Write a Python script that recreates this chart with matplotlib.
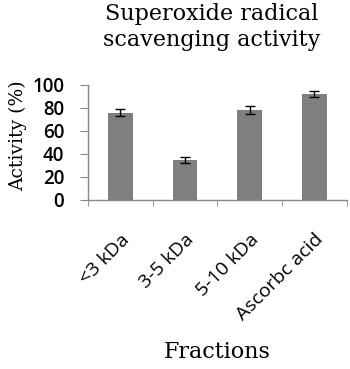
import numpy as np
import matplotlib.pyplot as plt
import matplotlib.transforms as mtransforms

# データ
fractions = ["<3 kDa", "3-5 kDa", "5-10 kDa", "Ascorbc acid"]
activity = [76, 35, 78, 92]
errors = [3, 2.5, 3.5, 2.5]
yticks = [0, 20, 40, 60, 80, 100]

fig = plt.figure(figsize=(3.5, 3.69), dpi=100)
ax = fig.add_axes([0.251, 0.458, 0.74, 0.312])

x = np.arange(len(fractions))
ax.bar(x, activity, width=0.38, color="#7f7f7f", zorder=2)
ax.errorbar(x, activity, yerr=errors, fmt="none", ecolor="black",
            elinewidth=1, capsize=3.5, capthick=1, zorder=3)

ax.set_xlim(-0.5, len(fractions) - 0.5)
ax.set_ylim(0, 100)

# 軸目盛
ax.set_yticks(yticks)
ax.set_yticklabels([str(v) for v in yticks], fontsize=13.5,
                   family="Open Sans", fontweight="semibold")
ax.set_xticks(x)
ax.set_xticklabels(fractions, rotation=45, ha="right", va="top",
                   rotation_mode="anchor", fontsize=14, family="Open Sans")
shift = mtransforms.ScaledTranslation(-8 / 100, 0, fig.dpi_scale_trans)
for lab in ax.get_xticklabels():
    lab.set_transform(lab.get_transform() + shift)
ax.set_xticks(np.arange(-0.5, len(fractions)), minor=True)
ax.tick_params(axis="x", which="major", length=0, pad=22)
ax.tick_params(axis="x", which="minor", length=4, color="#888888", direction="out")
ax.tick_params(axis="y", length=6, color="#888888", pad=11)

for s in ["top", "right"]:
    ax.spines[s].set_visible(False)
for s in ["left", "bottom"]:
    ax.spines[s].set_color("#888888")
    ax.spines[s].set_linewidth(1)

# タイトル・ラベル
fig.text(0.606, 0.992, "Superoxide radical\nscavenging activity", ha="center", va="top",
         fontsize=16, family="DejaVu Serif", linespacing=1.25)
ax.set_ylabel("Activity (%)", fontsize=13.5, family="DejaVu Serif")
ax.yaxis.set_label_coords(-0.236, 0.557)
fig.text(0.62, 0.046, "Fractions", ha="center", va="center",
         fontsize=16, family="DejaVu Serif")

plt.savefig("out.png", dpi=100)
plt.close("all")
